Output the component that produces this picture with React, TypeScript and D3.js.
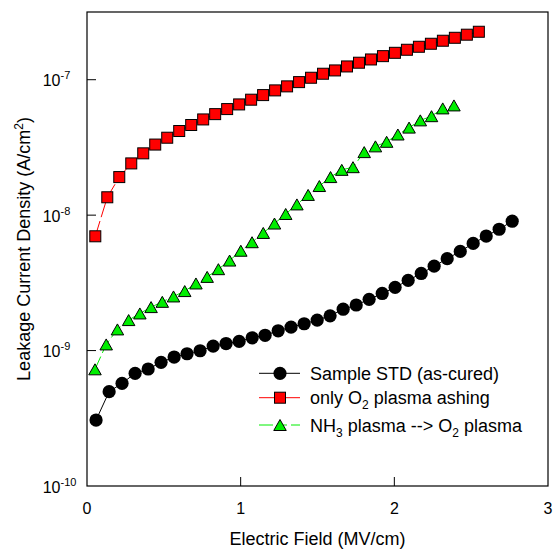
import React from "react";
import * as d3 from "d3";

const blackX = [0.059, 0.144, 0.228, 0.313, 0.398, 0.482, 0.567, 0.651, 0.736, 0.821, 0.905, 0.990, 1.075, 1.159, 1.244, 1.328, 1.413, 1.498, 1.582, 1.667, 1.752, 1.836, 1.921, 2.005, 2.090, 2.175, 2.259, 2.344, 2.429, 2.513, 2.598, 2.682, 2.767];
const blackY = [3.07e-10, 4.97e-10, 5.73e-10, 6.79e-10, 7.31e-10, 8.19e-10, 8.96e-10, 9.47e-10, 9.97e-10, 1.079e-9, 1.127e-9, 1.169e-9, 1.243e-9, 1.297e-9, 1.40e-9, 1.49e-9, 1.578e-9, 1.679e-9, 1.806e-9, 2.02e-9, 2.17e-9, 2.39e-9, 2.64e-9, 2.93e-9, 3.30e-9, 3.71e-9, 4.20e-9, 4.77e-9, 5.40e-9, 6.18e-9, 7.01e-9, 7.87e-9, 9.02e-9];

const redX = [0.054, 0.132, 0.210, 0.288, 0.366, 0.444, 0.522, 0.600, 0.678, 0.756, 0.834, 0.912, 0.990, 1.068, 1.146, 1.224, 1.302, 1.380, 1.458, 1.536, 1.614, 1.692, 1.770, 1.848, 1.926, 2.004, 2.082, 2.160, 2.238, 2.316, 2.394, 2.472, 2.550];
const redY = [6.98e-9, 1.355e-8, 1.91e-8, 2.41e-8, 2.86e-8, 3.32e-8, 3.73e-8, 4.18e-8, 4.63e-8, 5.09e-8, 5.57e-8, 6.07e-8, 6.57e-8, 7.12e-8, 7.70e-8, 8.34e-8, 8.93e-8, 9.60e-8, 1.034e-7, 1.107e-7, 1.171e-7, 1.253e-7, 1.335e-7, 1.411e-7, 1.493e-7, 1.58e-7, 1.664e-7, 1.751e-7, 1.843e-7, 1.94e-7, 2.04e-7, 2.15e-7, 2.26e-7];

const greenX = [0.052, 0.125, 0.198, 0.271, 0.344, 0.417, 0.490, 0.563, 0.636, 0.709, 0.782, 0.855, 0.928, 1.001, 1.074, 1.147, 1.220, 1.293, 1.366, 1.439, 1.512, 1.585, 1.658, 1.731, 1.804, 1.877, 1.950, 2.023, 2.096, 2.169, 2.242, 2.315, 2.388];
const greenY = [7.27e-10, 1.11e-9, 1.433e-9, 1.679e-9, 1.88e-9, 2.094e-9, 2.29e-9, 2.51e-9, 2.75e-9, 3.13e-9, 3.50e-9, 3.99e-9, 4.62e-9, 5.46e-9, 6.31e-9, 7.39e-9, 8.67e-9, 1.02e-8, 1.20e-8, 1.41e-8, 1.64e-8, 1.91e-8, 2.16e-8, 2.26e-8, 2.92e-8, 3.22e-8, 3.48e-8, 3.94e-8, 4.43e-8, 5.01e-8, 5.38e-8, 6.14e-8, 6.46e-8];

const xTicks = [0, 1, 2, 3];
const yTickExps = [-10, -9, -8, -7];

const FONT = "'Liberation Sans', Arial, Helvetica, sans-serif";
const RED = "#ff0000";
const GREEN = "#00ee00";

const L = 87, R = 548, T = 12, B = 486;

function Square({ cx, cy }: { cx: number; cy: number }) {
  const s = 11;
  return <rect x={cx - s / 2} y={cy - s / 2} width={s} height={s} fill={RED} stroke="#000" strokeWidth={1} />;
}
function Tri({ cx, cy }: { cx: number; cy: number }) {
  const w = 12.5, h = 11;
  const p = `${cx},${cy - h / 2} ${cx + w / 2},${cy + h / 2} ${cx - w / 2},${cy + h / 2}`;
  return <polygon points={p} fill={GREEN} stroke="#000" strokeWidth={1} strokeLinejoin="miter" />;
}
function Dot({ cx, cy }: { cx: number; cy: number }) {
  return <circle cx={cx} cy={cy} r={6.6} fill="#000" />;
}

export default function App() {
  const x = d3.scaleLinear().domain([0, 3]).range([L, R]);
  const y = d3.scaleLog().domain([1e-10, Math.pow(10, -6.5)]).range([B, T]);

  const mk = (xs: number[], ys: number[]) => xs.map((v, i) => [x(v), y(ys[i])] as [number, number]);
  const black = mk(blackX, blackY);
  const red = mk(redX, redY);
  const green = mk(greenX, greenY);
  const line = d3.line();

  const lg = { x1: 259, x2: 300, mx: 280, tx: 310 };
  const rows = [373.3, 397.7, 425];

  return (
    <svg width={554} height={549} style={{ position: "absolute", left: 0, top: 0 }} fontFamily={FONT}>
      <rect x={0} y={0} width={554} height={549} fill="#fff" />
      {/* data lines */}
      <path d={line(black) || ""} fill="none" stroke="#000" strokeWidth={1} />
      <path d={line(red) || ""} fill="none" stroke={RED} strokeWidth={1} strokeDasharray="16 4" />
      <path d={line(green) || ""} fill="none" stroke={GREEN} strokeWidth={1} strokeDasharray="14 4" />
      {black.map((p, i) => <Dot key={"b" + i} cx={p[0]} cy={p[1]} />)}
      {red.map((p, i) => <Square key={"r" + i} cx={p[0]} cy={p[1]} />)}
      {green.map((p, i) => <Tri key={"g" + i} cx={p[0]} cy={p[1]} />)}

      {/* frame */}
      <rect x={L} y={T} width={R - L} height={B - T} fill="none" stroke="#000" strokeWidth={1.2} />
      {/* ticks */}
      {xTicks.slice(1, -1).map((t) => (
        <line key={"xt" + t} x1={x(t)} x2={x(t)} y1={B} y2={B - 9} stroke="#000" strokeWidth={1} />
      ))}
      {yTickExps.slice(1).map((e) => (
        <line key={"yt" + e} x1={L} x2={L + 9} y1={y(Math.pow(10, e))} y2={y(Math.pow(10, e))} stroke="#000" strokeWidth={1} />
      ))}
      {xTicks.map((t) => (
        <text key={"xl" + t} x={x(t)} y={514} textAnchor="middle" fontSize={16} fill="#000">{t}</text>
      ))}
      {yTickExps.map((e) => (
        <text key={"yl" + e} x={42.7} y={y(Math.pow(10, e)) + 6.5} fontSize={16} fill="#000">
          10<tspan fontSize={11} dy={-7}>{e}</tspan>
        </text>
      ))}
      {/* axis titles */}
      <text x={(L + R) / 2} y={545} textAnchor="middle" fontSize={18} fill="#000">Electric Field (MV/cm)</text>
      <text transform={`translate(30,249) rotate(-90)`} textAnchor="middle" fontSize={18} fill="#000">
        Leakage Current Density (A/cm<tspan fontSize={12} dy={-7}>2</tspan><tspan dy={7}>)</tspan>
      </text>

      {/* legend */}
      <line x1={lg.x1} x2={lg.x2} y1={rows[0]} y2={rows[0]} stroke="#000" strokeWidth={1} />
      <Dot cx={lg.mx} cy={rows[0]} />
      <text x={lg.tx} y={rows[0] + 6.7} fontSize={18} fill="#000">Sample STD (as-cured)</text>

      <line x1={lg.x1} x2={lg.x2} y1={rows[1]} y2={rows[1]} stroke={RED} strokeWidth={1} />
      <Square cx={lg.mx} cy={rows[1]} />
      <text x={lg.tx} y={rows[1] + 6.7} fontSize={18} fill="#000">
        only O<tspan fontSize={12} dy={5}>2</tspan><tspan dy={-5}> plasma ashing</tspan>
      </text>

      <line x1={lg.x1} x2={lg.x2} y1={rows[2]} y2={rows[2]} stroke={GREEN} strokeWidth={1} strokeDasharray="14 8 6 4" />
      <Tri cx={lg.mx} cy={rows[2]} />
      <text x={lg.tx} y={rows[2] + 6.5} fontSize={18} fill="#000">
        NH<tspan fontSize={12} dy={5}>3</tspan><tspan dy={-5}> plasma --&gt; O</tspan><tspan fontSize={12} dy={5}>2</tspan><tspan dy={-5}> plasma</tspan>
      </text>
    </svg>
  );
}
